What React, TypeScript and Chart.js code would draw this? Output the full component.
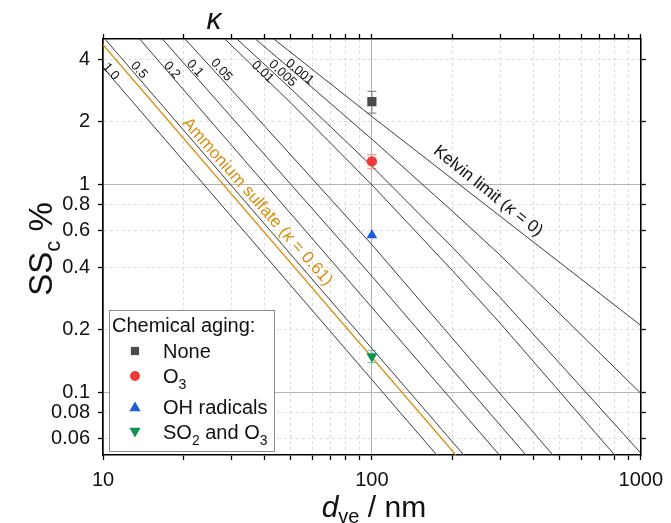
import React, { useEffect, useRef } from 'react';
import { Chart, registerables } from 'chart.js';

Chart.register(...registerables);

const FONT = '"Liberation Sans", Arial, Helvetica, sans-serif';

// ---- axes ----
const X_TICKS = [10, 20, 30, 40, 50, 60, 70, 80, 90, 100, 200, 300, 400, 500, 600, 700, 800, 900, 1000];
const X_MAJOR = [10, 100, 1000];
const X_LABELS: Record<number, string> = { 10: '10', 100: '100', 1000: '1000' };
const Y_TICKS = [0.06, 0.08, 0.1, 0.2, 0.4, 0.6, 0.8, 1, 2, 4];
const Y_MAJOR = [0.1, 1];
const Y_LABELS: Record<number, string> = { 0.06: '0.06', 0.08: '0.08', 0.1: '0.1', 0.2: '0.2', 0.4: '0.4', 0.6: '0.6', 0.8: '0.8', 1: '1', 2: '2', 4: '4' };

// ---- kappa-Koehler critical supersaturation lines (d in nm, SSc in %) ----
const K1_D = [10, 174.3];
const K1_S = [3.65, 0.05];
const K05_D = [10.17, 219.7];
const K05_S = [5, 0.05];
const K02_D = [13.69, 298.1];
const K02_S = [5, 0.05];
const K01_D = [16.64, 100, 373.8];
const K01_S = [5, 0.362, 0.05];
const K005_D = [20.2, 40, 100, 471];
const K005_S = [5, 1.9, 0.513, 0.05];
const K001_D = [28.4, 50, 100, 200, 300, 800];
const K001_S = [5, 2.46, 0.995, 0.3835, 0.215, 0.05];
const K0005_D = [31.5, 50, 100, 200, 300, 1000];
const K0005_S = [5, 2.88, 1.223, 0.496, 0.286, 0.0511];
const K0001_D = [36.9, 50, 100, 200, 300, 1000];
const K0001_S = [5, 3.58, 1.65, 0.74, 0.457, 0.099];
const KELVIN_D = [43.2, 100, 300, 1000];
const KELVIN_S = [5, 2.12, 0.703, 0.21];
const AS_D = [10, 205.3];
const AS_S = [4.69, 0.05];

// ---- kappa labels (text, anchor d, anchor SSc, angle deg) ----
const KAPPA_TEXT = ['1.0', '0.5', '0.2', '0.1', '0.05', '0.01', '0.005', '0.001'];
const KAPPA_LBL_D = [10.76, 13.69, 18.15, 22.13, 27.74, 39.5, 46.8, 54.2];
const KAPPA_LBL_S = [3.51, 3.57, 3.57, 3.64, 3.57, 3.5, 3.44, 3.5];
const KAPPA_LBL_ANG = [49, 49, 49, 49, 48, 44, 43, 40];

// ---- measurements ----
const SAMPLE_NAMES = ['None', 'O3', 'OH radicals', 'SO2 and O3'];
const SAMPLE_D = [100, 100, 100, 100];
const SAMPLE_SS = [2.5, 1.29, 0.57, 0.149];
const SAMPLE_ERR = [0.3, 0.1, 0.0, 0.01];
const SAMPLE_COLOR = ['#4a4a4a', '#f03a3a', '#1a5fd6', '#0f9553'];
const SAMPLE_ERR_COLOR = ['#8a8a8a', '#f5a0a0', '#8fb0ea', '#86c9a6'];
const SAMPLE_STYLE = ['rect', 'circle', 'triangle', 'triangle'];
const SAMPLE_ROT = [0, 0, 0, 180];
const SAMPLE_RADIUS = [6.5, 5.2, 6.2, 6.4];

const toPts = (d: number[], s: number[]) => d.map((v, i) => ({ x: v, y: s[i] }));

const LINE_COLOR = '#3c3c3c';
const AS_COLOR = '#dc8e10';

function gridColor(ctx: any, major: number[]) {
  if (!ctx.tick) return '#000';
  return major.includes(ctx.tick.value) ? '#b4b4b4' : '#dcdcdc';
}
function gridDash(ctx: any, major: number[]) {
  if (!ctx.tick) return [];
  return major.includes(ctx.tick.value) ? [] : [3, 3];
}

type Part = { t: string; size: number; italic?: boolean; dy?: number };
function fontOf(p: Part) {
  return `${p.italic ? 'italic ' : ''}${p.size}px ${FONT}`;
}
function drawRich(ctx: CanvasRenderingContext2D, parts: Part[], x: number, y: number, angle: number, color: string, mid: number) {
  ctx.save();
  ctx.translate(x, y);
  ctx.rotate(angle);
  ctx.fillStyle = color;
  ctx.textBaseline = 'alphabetic';
  ctx.textAlign = 'left';
  let w = 0;
  for (const p of parts) {
    ctx.font = fontOf(p);
    w += ctx.measureText(p.t).width;
  }
  let cx = -w / 2;
  for (const p of parts) {
    ctx.font = fontOf(p);
    ctx.fillText(p.t, cx, mid + (p.dy || 0));
    cx += ctx.measureText(p.t).width;
  }
  ctx.restore();
}

function drawRichLeft(ctx: CanvasRenderingContext2D, parts: Part[], x: number, y: number, color: string) {
  ctx.save();
  ctx.fillStyle = color;
  ctx.textBaseline = 'alphabetic';
  ctx.textAlign = 'left';
  let cx = x;
  for (const p of parts) {
    ctx.font = fontOf(p);
    ctx.fillText(p.t, cx, y + (p.dy || 0));
    cx += ctx.measureText(p.t).width;
  }
  ctx.restore();
}

function drawMarker(ctx: CanvasRenderingContext2D, style: string, rot: number, x: number, y: number, r: number, color: string) {
  ctx.save();
  ctx.fillStyle = color;
  ctx.beginPath();
  if (style === 'rect') {
    const s = r * Math.SQRT1_2;
    ctx.rect(x - s, y - s, 2 * s, 2 * s);
  } else if (style === 'circle') {
    ctx.arc(x, y, r, 0, Math.PI * 2);
  } else {
    let a = (rot * Math.PI) / 180;
    ctx.moveTo(x + Math.sin(a) * r, y - Math.cos(a) * r);
    a += (2 * Math.PI) / 3;
    ctx.lineTo(x + Math.sin(a) * r, y - Math.cos(a) * r);
    a += (2 * Math.PI) / 3;
    ctx.lineTo(x + Math.sin(a) * r, y - Math.cos(a) * r);
    ctx.closePath();
  }
  ctx.fill();
  ctx.restore();
}

const annotPlugin = {
  id: 'annot',
  beforeDatasetsDraw(chart: any) {
    const ctx: CanvasRenderingContext2D = chart.ctx;
    const xs = chart.scales.x;
    const ys = chart.scales.y;
    ctx.save();
    ctx.lineWidth = 1.2;
    SAMPLE_D.forEach((d, i) => {
      if (!SAMPLE_ERR[i]) return;
      const px = xs.getPixelForValue(d);
      const y1 = ys.getPixelForValue(SAMPLE_SS[i] + SAMPLE_ERR[i]);
      const y2 = ys.getPixelForValue(SAMPLE_SS[i] - SAMPLE_ERR[i]);
      ctx.strokeStyle = SAMPLE_ERR_COLOR[i];
      ctx.beginPath();
      ctx.moveTo(px, y1);
      ctx.lineTo(px, y2);
      ctx.moveTo(px - 4.5, y1);
      ctx.lineTo(px + 4.5, y1);
      ctx.moveTo(px - 4.5, y2);
      ctx.lineTo(px + 4.5, y2);
      ctx.stroke();
    });
    ctx.restore();
  },
  afterDraw(chart: any) {
    const ctx: CanvasRenderingContext2D = chart.ctx;
    const xs = chart.scales.x;
    const ys = chart.scales.y;
    const ca = chart.chartArea;
    const deg = Math.PI / 180;

    // kappa values along lines
    KAPPA_TEXT.forEach((t, i) => {
      drawRich(ctx, [{ t, size: 13 }], xs.getPixelForValue(KAPPA_LBL_D[i]), ys.getPixelForValue(KAPPA_LBL_S[i]), KAPPA_LBL_ANG[i] * deg, '#111', 4.6);
    });

    // Ammonium sulfate label
    drawRich(
      ctx,
      [
        { t: 'Ammonium sulfate (', size: 17 },
        { t: 'κ', size: 17, italic: true },
        { t: ' = 0.61)', size: 17 },
      ],
      xs.getPixelForValue(37.86),
      ys.getPixelForValue(0.832),
      48.5 * deg,
      AS_COLOR,
      6
    );

    // Kelvin label
    drawRich(
      ctx,
      [
        { t: 'Kelvin limit (', size: 17 },
        { t: 'κ', size: 17, italic: true },
        { t: ' = 0)', size: 17 },
      ],
      xs.getPixelForValue(272),
      ys.getPixelForValue(0.939),
      38.6 * deg,
      '#111',
      6
    );

    // top kappa symbol
    drawRich(ctx, [{ t: 'κ', size: 30, italic: true }], xs.getPixelForValue(25.85), ca.top - 19, 0, '#111', 9);

    // y title
    drawRich(
      ctx,
      [
        { t: 'SS', size: 33 },
        { t: 'c', size: 22, dy: 8 },
        { t: ' %', size: 33 },
      ],
      40,
      (ca.top + ca.bottom) / 2 + 2,
      -Math.PI / 2,
      '#111',
      12
    );

    // x title
    drawRich(
      ctx,
      [
        { t: 'd', size: 30, italic: true },
        { t: 've', size: 20, dy: 6 },
        { t: ' / nm', size: 30 },
      ],
      (ca.left + ca.right) / 2 + 2,
      506,
      0,
      '#111',
      11
    );

    // legend
    const lx = ca.left + 6;
    const ly = 310;
    ctx.save();
    ctx.fillStyle = '#fff';
    ctx.fillRect(lx, ly, 165, 141);
    ctx.strokeStyle = '#8c8c8c';
    ctx.lineWidth = 1;
    ctx.strokeRect(lx + 0.5, ly + 0.5, 165, 141);
    ctx.restore();
    drawRichLeft(ctx, [{ t: 'Chemical aging:', size: 20 }], lx + 3, ly + 22, '#111');
    const rows: Part[][] = [
      [{ t: 'None', size: 20 }],
      [{ t: 'O', size: 20 }, { t: '3', size: 14, dy: 6 }],
      [{ t: 'OH radicals', size: 20 }],
      [{ t: 'SO', size: 20 }, { t: '2', size: 14, dy: 6 }, { t: ' and O', size: 20 }, { t: '3', size: 14, dy: 6 }],
    ];
    const rowY = [351, 376, 407, 432];
    const legR = [5.8, 5, 6.5, 6.5];
    rows.forEach((parts, i) => {
      const my = rowY[i];
      drawMarker(ctx, SAMPLE_STYLE[i], SAMPLE_ROT[i], lx + 26, my + (i === 2 ? 1 : i === 3 ? -1 : 0), legR[i], SAMPLE_COLOR[i]);
      drawRichLeft(ctx, parts, lx + 54, my + 7, '#111');
    });
  },
};

export default function App() {
  const ref = useRef<HTMLCanvasElement>(null);
  useEffect(() => {
    const lineDs = (label: string, d: number[], s: number[], color = LINE_COLOR, w = 1) => ({
      label,
      data: toPts(d, s),
      showLine: true,
      borderColor: color,
      backgroundColor: color,
      borderWidth: w,
      pointRadius: 0,
      tension: 0,
    });
    const pointDs = SAMPLE_NAMES.map((name, i) => ({
      label: name,
      data: [{ x: SAMPLE_D[i], y: SAMPLE_SS[i] }],
      showLine: false,
      pointStyle: SAMPLE_STYLE[i],
      rotation: SAMPLE_ROT[i],
      pointRadius: SAMPLE_RADIUS[i],
      backgroundColor: SAMPLE_COLOR[i],
      borderColor: SAMPLE_COLOR[i],
      borderWidth: 0,
    }));
    const datasets: any[] = [
      ...pointDs,
      lineDs('1.0', K1_D, K1_S),
      lineDs('Ammonium sulfate', AS_D, AS_S, AS_COLOR, 1.3),
      lineDs('0.5', K05_D, K05_S),
      lineDs('0.2', K02_D, K02_S),
      lineDs('0.1', K01_D, K01_S),
      lineDs('0.05', K005_D, K005_S),
      lineDs('0.01', K001_D, K001_S),
      lineDs('0.005', K0005_D, K0005_S),
      lineDs('0.001', K0001_D, K0001_S),
      lineDs('Kelvin', KELVIN_D, KELVIN_S),
    ];
    const xTicks = (s: any) => {
      s.ticks = X_TICKS.map((v) => ({ value: v }));
    };
    const yTicks = (s: any) => {
      s.ticks = Y_TICKS.map((v) => ({ value: v }));
    };
    const chart = new Chart(ref.current as HTMLCanvasElement, {
      type: 'scatter',
      data: { datasets },
      options: {
        responsive: false,
        animation: false,
        devicePixelRatio: 1,
        layout: { padding: 0 },
        plugins: { legend: { display: false }, tooltip: { enabled: false } },
        scales: {
          x: {
            type: 'logarithmic',
            position: 'bottom',
            min: 10,
            max: 1000,
            afterBuildTicks: xTicks,
            afterFit: (s: any) => {
              s.height = 68;
            },
            ticks: {
              autoSkip: false,
              maxRotation: 0,
              minRotation: 0,
              padding: 8,
              color: '#111',
              font: { size: 20, family: FONT },
              callback: (v: any) => X_LABELS[v as number] ?? '',
            },
            grid: {
              color: (c: any) => gridColor(c, X_MAJOR),
              lineWidth: 1,
              tickLength: 5,
              tickColor: '#000',
              tickWidth: 1.3,
            },
            border: { color: '#000', width: 1.6, dash: (c: any) => gridDash(c, X_MAJOR) },
          },
          x2: {
            type: 'logarithmic',
            position: 'top',
            min: 10,
            max: 1000,
            afterBuildTicks: xTicks,
            afterFit: (s: any) => {
              s.height = 39;
            },
            ticks: { display: false },
            grid: { drawOnChartArea: false, tickLength: 5, tickColor: '#000', tickWidth: 1.3 },
            border: { color: '#000', width: 1.6 },
          },
          y: {
            type: 'logarithmic',
            position: 'left',
            min: 0.05,
            max: 5,
            afterBuildTicks: yTicks,
            afterFit: (s: any) => {
              s.width = 103;
            },
            ticks: {
              autoSkip: false,
              padding: 8,
              color: '#111',
              font: { size: 20, family: FONT },
              callback: (v: any) => Y_LABELS[v as number] ?? '',
            },
            grid: {
              color: (c: any) => gridColor(c, Y_MAJOR),
              lineWidth: 1,
              tickLength: 5,
              tickColor: '#000',
              tickWidth: 1.3,
            },
            border: { color: '#000', width: 1.6, dash: (c: any) => gridDash(c, Y_MAJOR) },
          },
          y2: {
            type: 'logarithmic',
            position: 'right',
            min: 0.05,
            max: 5,
            afterBuildTicks: yTicks,
            afterFit: (s: any) => {
              s.width = 25;
            },
            ticks: { display: false },
            grid: { drawOnChartArea: false, tickLength: 5, tickColor: '#000', tickWidth: 1.3 },
            border: { color: '#000', width: 1.6 },
          },
        },
      } as any,
      plugins: [annotPlugin as any],
    });
    return () => chart.destroy();
  }, []);
  return (
    <div style={{ position: 'fixed', left: 0, top: 0, width: 671, height: 523, background: '#fff' }}>
      <canvas ref={ref} width={671} height={523} style={{ display: 'block', width: 671, height: 523 }} />
    </div>
  );
}
